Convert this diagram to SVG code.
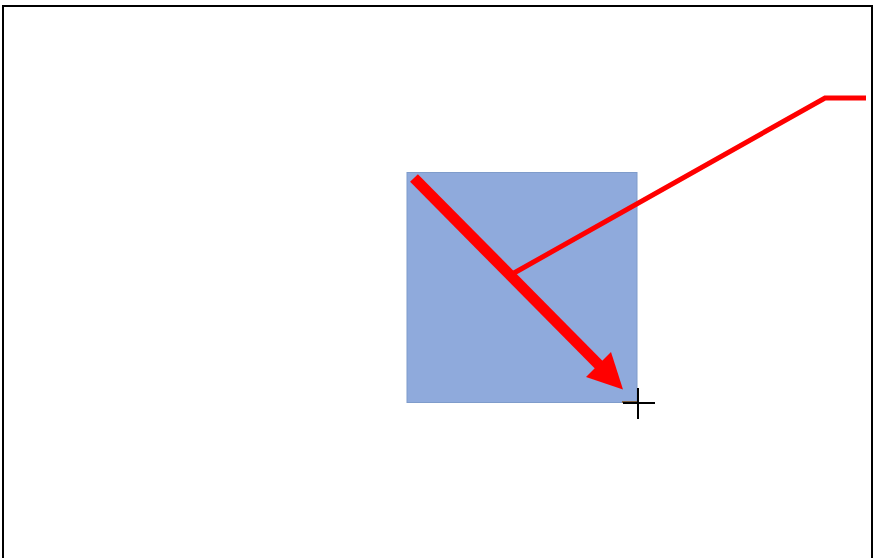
<svg xmlns="http://www.w3.org/2000/svg" width="875" height="558" viewBox="0 0 875 558">
<style>
.frame{fill:#fff;stroke:#000;stroke-width:2}
.box{fill:#8FAADC;stroke:#7F9CCB;stroke-width:1}
.red{fill:none;stroke:#FF0000;stroke-linecap:butt}
</style>
<rect class="frame" x="3" y="6" width="869" height="560"/>
<g id="box"><rect class="box" x="407" y="172.5" width="230" height="230"/></g>
<g id="connectors">
<line class="red" x1="414" y1="178" x2="600" y2="366" stroke-width="11"/>
<polygon points="623,389.5 611,352 586,377" fill="#FF0000"/>
<polyline class="red" points="514,273 825,98 866,98" stroke-width="5"/>
</g>
<g id="cursor">
<line x1="622" y1="402" x2="638" y2="402" stroke="#7F6040" stroke-width="2"/>
<line x1="623" y1="403" x2="655" y2="403" stroke="#000" stroke-width="2"/>
<line x1="638" y1="388" x2="638" y2="419" stroke="#000" stroke-width="2"/>
</g>
</svg>
